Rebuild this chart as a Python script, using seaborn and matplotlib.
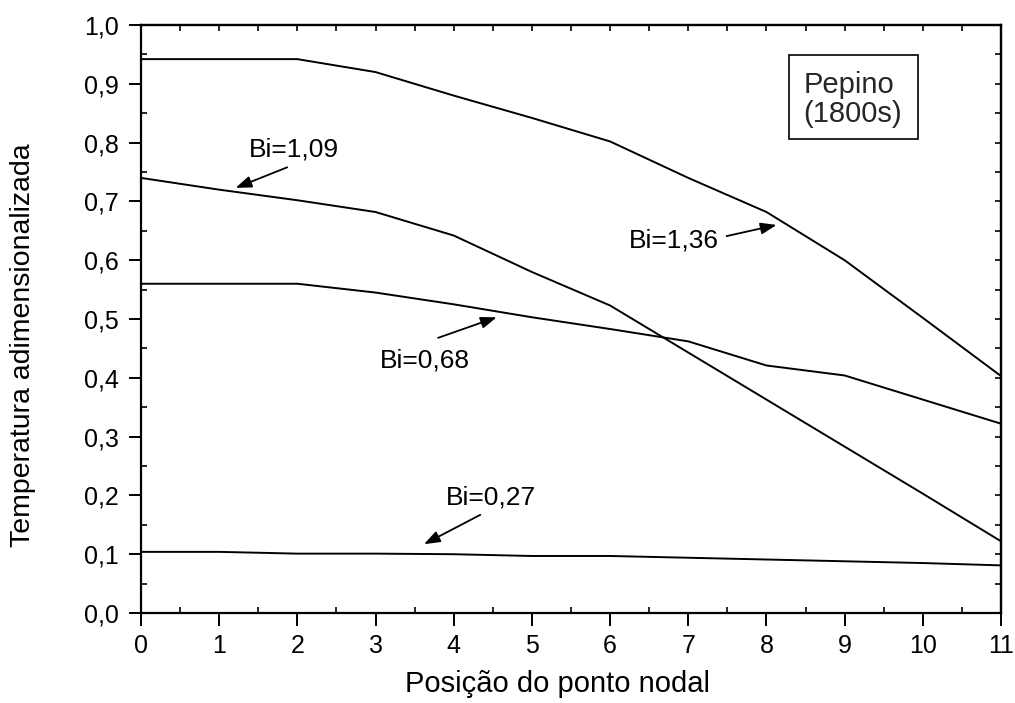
import matplotlib
matplotlib.use("Agg")
import matplotlib.pyplot as plt
from matplotlib.patches import Rectangle
from matplotlib.ticker import MultipleLocator
import pandas as pd
import seaborn as sns

# Nodal positions and dimensionless temperature profiles (Pepino, t = 1800 s)
posicao = list(range(12))
bi_136 = [0.942, 0.942, 0.942, 0.920, 0.880, 0.842, 0.802, 0.740, 0.682, 0.600, 0.502, 0.403]
bi_109 = [0.740, 0.720, 0.702, 0.682, 0.642, 0.580, 0.523, 0.443, 0.363, 0.283, 0.203, 0.122]
bi_068 = [0.560, 0.560, 0.560, 0.545, 0.525, 0.503, 0.483, 0.462, 0.421, 0.404, 0.363, 0.322]
bi_027 = [0.104, 0.104, 0.101, 0.101, 0.100, 0.097, 0.097, 0.094, 0.091, 0.088, 0.085, 0.081]

series = {"Bi=1,36": bi_136, "Bi=1,09": bi_109, "Bi=0,68": bi_068, "Bi=0,27": bi_027}

x_ticks = list(range(12))
y_ticks = [0.0, 0.1, 0.2, 0.3, 0.4, 0.5, 0.6, 0.7, 0.8, 0.9, 1.0]

df = pd.concat(
    [pd.DataFrame({"pos": posicao, "temp": v, "serie": k}) for k, v in series.items()],
    ignore_index=True,
)

sns.set_theme(style="white")
plt.rcParams["font.family"] = ["Liberation Sans", "DejaVu Sans"]

fig = plt.figure(figsize=(10.15, 7.03), dpi=100)
ax = fig.add_axes([0.1389, 0.128, 0.8473, 0.8364])

sns.lineplot(data=df, x="pos", y="temp", hue="serie",
             palette=["black"] * 4, linewidth=1.4, legend=False, ax=ax)

ax.set_xlim(0, 11)
ax.set_ylim(0, 1.0)
ax.set_xticks(x_ticks)
ax.set_xticklabels([str(t) for t in x_ticks])
ax.set_yticks(y_ticks)
ax.set_yticklabels([f"{t:.1f}".replace(".", ",") for t in y_ticks])
ax.xaxis.set_minor_locator(MultipleLocator(0.5))
ax.yaxis.set_minor_locator(MultipleLocator(0.05))

ax.tick_params(which="major", direction="out", length=9, width=1.4,
               labelsize=18, colors="black")
ax.tick_params(axis="x", which="major", pad=6)
ax.tick_params(axis="y", which="major", pad=7)
ax.tick_params(which="minor", direction="in", length=4, width=1.2, colors="black")
ax.tick_params(axis="x", which="both", bottom=True, top=False)
ax.tick_params(axis="y", which="both", left=True, right=False)

for s in ax.spines.values():
    s.set_color("black")
    s.set_linewidth(1.6)

# Inward ticks on the top and right frame edges
top = ax.secondary_xaxis("top")
top.xaxis.set_major_locator(MultipleLocator(0.5))
top.tick_params(direction="in", length=4, width=1.2, labeltop=False, colors="black")
top.spines["top"].set_linewidth(1.6)
right = ax.secondary_yaxis("right")
right.yaxis.set_major_locator(MultipleLocator(0.05))
right.tick_params(direction="in", length=4, width=1.2, labelright=False, colors="black")
right.spines["right"].set_linewidth(1.6)

ax.set_xlabel("Posição do ponto nodal", fontsize=21, color="black")
ax.set_ylabel("Temperatura adimensionalizada", fontsize=20.5, color="black")
ax.xaxis.set_label_coords(0.484, -0.097)
ax.yaxis.set_label_coords(-0.122, 0.456)

arrow = dict(arrowstyle="-|>,head_length=0.6,head_width=0.22", color="black",
             lw=1.3, mutation_scale=16, shrinkA=0, shrinkB=0)
lbl = dict(fontsize=19, ha="center", va="baseline", color="black")

ax.annotate("", xy=(1.21, 0.723), xytext=(1.87, 0.758), arrowprops=arrow)
ax.text(1.95, 0.777, "Bi=1,09", **lbl)
ax.annotate("", xy=(8.13, 0.660), xytext=(7.49, 0.641), arrowprops=arrow)
ax.text(6.82, 0.622, "Bi=1,36", **lbl)
ax.annotate("", xy=(4.55, 0.503), xytext=(3.80, 0.468), arrowprops=arrow)
ax.text(3.63, 0.417, "Bi=0,68", **lbl)
ax.annotate("", xy=(3.62, 0.117), xytext=(4.34, 0.167), arrowprops=arrow)
ax.text(4.48, 0.185, "Bi=0,27", **lbl)

# Caption box
ax.add_patch(Rectangle((8.29, 0.806), 1.65, 0.143, facecolor="white",
                       edgecolor="black", linewidth=1.2, zorder=3))
ax.text(8.47, 0.884, "Pepino", fontsize=21, ha="left", va="baseline", zorder=4)
ax.text(8.47, 0.835, "(1800s)", fontsize=21, ha="left", va="baseline", zorder=4)

fig.savefig("out.png", dpi=100, facecolor="white")
